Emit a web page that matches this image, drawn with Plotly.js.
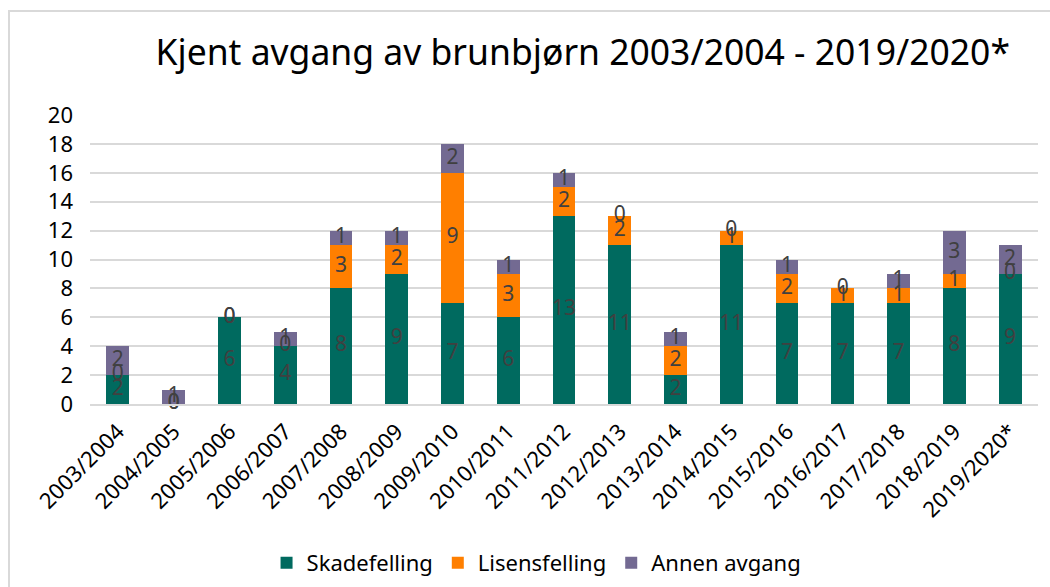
<!DOCTYPE html>
<html>
<head>
<meta charset="utf-8">
<script src="https://cdn.plot.ly/plotly-3.0.1.min.js"></script>
<style>
html,body{margin:0;padding:0;background:#fff;overflow:hidden;}
#wrap{position:relative;width:1050px;height:587px;}
#chart{width:1050px;height:587px;}
#frame{position:absolute;left:8px;top:10px;width:1200px;height:800px;border:2px solid #d9d9d9;pointer-events:none;box-sizing:border-box;}
</style>
</head>
<body>
<div id="wrap"><div id="chart"></div><div id="frame"></div></div>
<script>
const categories = ["2003/2004","2004/2005","2005/2006","2006/2007","2007/2008","2008/2009","2009/2010","2010/2011","2011/2012","2012/2013","2013/2014","2014/2015","2015/2016","2016/2017","2017/2018","2018/2019","2019/2020*"];
const skadefelling = [2,0,6,4,8,9,7,6,13,11,2,11,7,7,7,8,9];
const lisensfelling = [0,0,0,0,3,2,9,3,2,2,2,1,2,1,1,1,0];
const annenAvgang  = [2,1,0,1,1,1,2,1,1,0,1,0,1,0,1,3,2];
const seriesNames = ["Skadefelling","Lisensfelling","Annen avgang"];
const seriesColors = ["#006A5F","#FF7F00","#736A92"];
const yTicks = [0,2,4,6,8,10,12,14,16,18,20];

const FONT = "Noto Sans, DejaVu Sans, sans-serif";
const series = [skadefelling, lisensfelling, annenAvgang];
const traces = [];
series.forEach((vals,i)=>{
  traces.push({type:'bar', name:seriesNames[i], x:categories, y:vals,
    marker:{color:seriesColors[i]}, hoverinfo:'x+y+name'});
});
// data labels centred in each segment (computed from the data)
const base = categories.map(()=>0);
series.forEach((vals,i)=>{
  const ys = vals.map((v,k)=>base[k]+v/2);
  traces.push({type:'scatter', mode:'text', x:categories, y:ys, text:vals.map(String),
    textposition:'middle center', textfont:{family:FONT,size:21,color:'#404040'},
    showlegend:false, hoverinfo:'skip', cliponaxis:false});
  vals.forEach((v,k)=>base[k]+=v);
});

const layout = {
  width:1050, height:587,
  margin:{l:90,r:12,t:115,b:183},
  paper_bgcolor:'#fff', plot_bgcolor:'#fff',
  barmode:'stack', bargap:0.59,
  font:{family:FONT, color:'#000'},
  title:{text:"Kjent avgang av brunbjørn 2003/2004 - 2019/2020*", font:{family:FONT,size:35.5,color:'#000'},
    xref:'container', x:0.555, xanchor:'center', yref:'container', y:0.91, yanchor:'middle'},
  xaxis:{type:'category', range:[-0.5, categories.length-0.5], tickangle:-45, tickfont:{size:22,color:'#000'}, showgrid:false,
    showline:true, linecolor:'#d9d9d9', linewidth:2, ticks:'', ticklabelstandoff:4, automargin:false},
  yaxis:{range:[0,20], tickvals:yTicks, tickfont:{size:22,color:'#000'}, gridcolor:'#d9d9d9', gridwidth:2,
    zeroline:false, showline:false, ticks:'', ticklen:0, ticklabelstandoff:16, automargin:false},
  legend:{orientation:'h', xref:'container', x:0.511, xanchor:'center', yref:'container', y:0.041, yanchor:'middle',
    font:{size:22,color:'#000'}, traceorder:'normal'},
  showlegend:true
};
Plotly.newPlot('chart', traces, layout, {displayModeBar:false, staticPlot:true});
</script>
</body>
</html>
